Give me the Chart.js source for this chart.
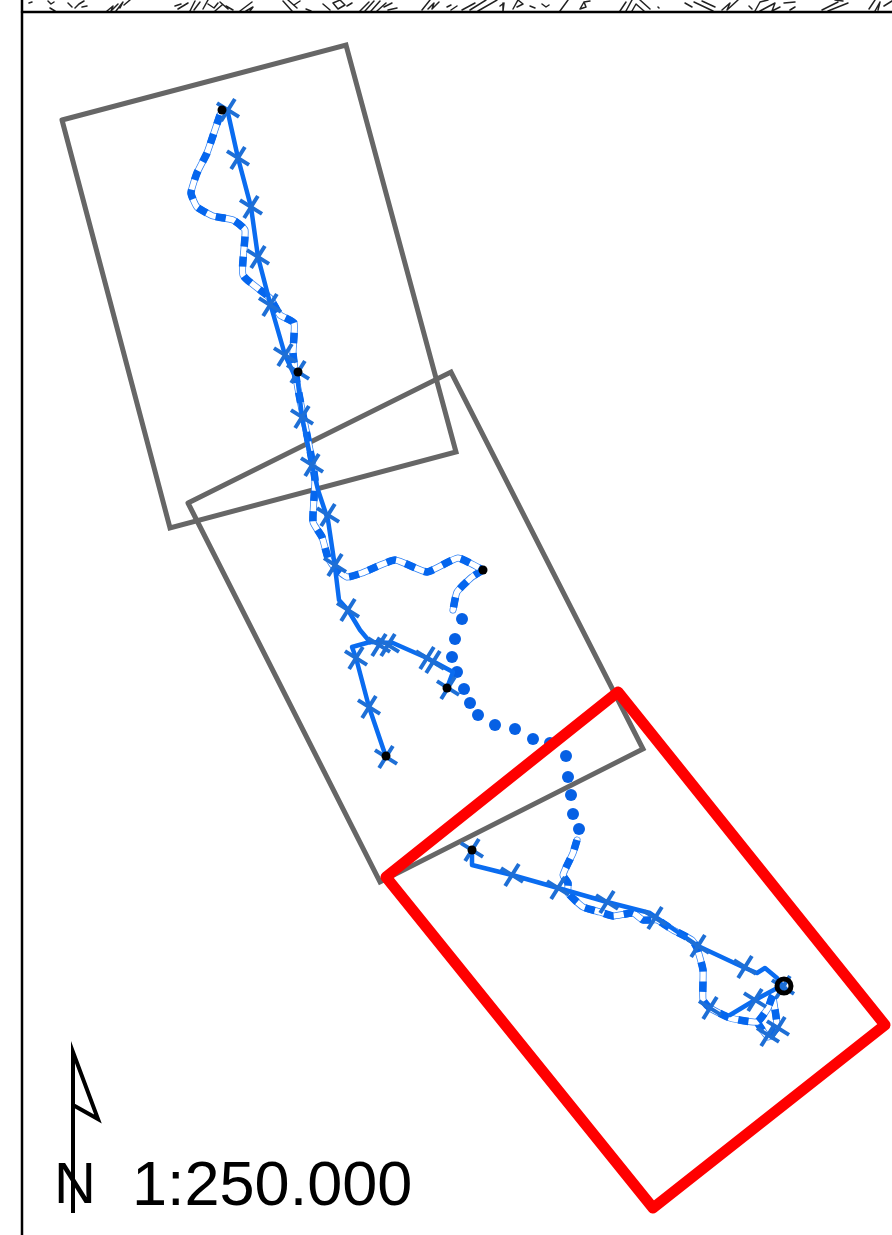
<!DOCTYPE html>
<html>
<head>
<meta charset="utf-8">
<title>1:250.000</title>
<script src="https://cdn.jsdelivr.net/npm/chart.js@4/dist/chart.umd.min.js"></script>
<style>
body { margin: 0; background: #fff; overflow: hidden; }
canvas { display: block; }
</style>
</head>
<body>
<canvas id="map" width="892" height="1235"></canvas>
<script>
// map sheets
const sheetNorth = [[62,120],[346,45],[456,452],[170,528],[62,120]];
const sheetMiddle = [[188,503],[451,372],[643,749],[380,882],[188,503]];
const sheetSouth = [[386,877],[618,692],[885,1025],[653,1208],[386,877]];

// walked route, solid
const solidNorth = [[228,113],[238,158],[251,207],[258,257],[270,303],[285,355],[298,383],[302,417],[312,465],[318,490],[328,520],[335,567],[339,600],[348,610],[360,630],[370,642]];
const solidWest = [[370,642],[352,647],[356,658],[369,707],[386,757]];
const solidEast = [[370,642],[393,643],[427,658],[453,672],[447,688]];
const solidSouth = [[472,850],[472,865],[512,875],[558,888],[607,902],[650,913],[698,946],[745,968],[757,973],[765,968],[777,978],[783,987]];
const solidLoop = [[730,1015],[755,1000],[768,993],[783,985]];

// route alternative, dashed
const dashNorth = [[220,115],[207,153],[197,173],[191,193],[197,207],[213,216],[233,220],[245,230],[243,275],[270,298],[280,315],[294,323],[293,353],[297,383],[302,410],[310,450],[315,480],[313,522],[322,537],[328,558],[335,568],[347,577],[362,573],[395,560],[427,572],[458,558],[483,570]];
const dashHook = [[483,570],[472,577],[457,592],[453,610]];
const dashSouth = [[577,840],[573,853],[563,875],[568,883],[568,893],[583,907],[600,912],[613,916],[633,913],[643,920],[657,920],[673,930],[692,940],[697,948],[703,970],[703,1000],[710,1008],[730,1018],[757,1022],[768,1008],[773,995],[783,987]];
const dashSpur = [[757,1022],[768,1037],[777,1027],[773,997]];

// route without a path, dotted
const dotted = [[462,619],[455,639],[452,657],[457,672],[464,689],[470,703],[478,715],[495,725],[515,729],[533,739],[550,743],[566,756],[568,777],[571,795],[573,814],[579,829]];

// waypoints
const crosses = [[228,110],[238,158],[251,207],[258,257],[270,305],[285,355],[298,372],[302,417],[312,465],[328,515],[335,565],[348,610],[379,645],[388,645],[427,658],[433,662],[356,658],[369,707],[386,757],[448,688],[472,850],[512,875],[558,888],[607,902],[655,918],[698,946],[745,967],[755,1000],[710,1008],[778,1028],[768,1035],[783,987]];
const stops = [[222,110],[298,372],[483,570],[447,688],[386,756],[472,850]];
const campStop = [[784,986]];

// sheet frame and north arrow
const frameLeft = [[22,0],[22,1235]];
const frameTop = [[22,12],[892,12]];
const arrow = [[73,1213],[73,1052],[98,1119],[73,1105]];

// background map scraps along the top edge
const topoStrokes = [
  [[29,3],[32,2]],[[48,1],[51,4],[54,2]],[[50,8],[55,11]],[[68,3],[72,7]],[[75,8],[79,4],[84,1]],[[82,7],[87,6]],
  [[107,11],[113,6],[111,11],[118,4]],[[116,11],[123,2],[120,8]],[[124,5],[130,0]],
  [[175,6],[181,4]],[[178,9],[188,3]],[[190,11],[195,1]],[[194,10],[200,2]],[[203,9],[208,0]],[[208,4],[214,8],[218,3]],[[215,11],[222,5]],[[220,2],[228,9]],[[226,6],[233,10]],
  [[240,11],[252,2]],[[246,11],[253,7],[250,11]],[[283,1],[292,11]],[[288,0],[297,8]],[[300,1],[294,5]],[[306,9],[311,11]],
  [[323,4],[330,10]],[[333,3],[340,0],[345,5],[338,9],[333,3]],[[347,6],[352,3]],[[360,11],[369,2]],[[365,11],[374,1]],[[371,11],[380,1]],[[377,11],[386,3]],[[384,7],[392,3]],[[388,10],[397,8]],
  [[422,10],[430,0]],[[428,9],[434,3],[432,9],[439,2]],[[447,7],[451,5]],[[451,10],[457,6]],
  [[462,10],[475,3]],[[470,10],[486,0]],[[478,11],[497,0]],[[500,6],[504,3],[503,11]],[[513,9],[518,0],[523,4],[517,7]],[[530,6],[535,8]],[[542,4],[546,7],[549,5]],
  [[560,11],[568,0]],[[580,9],[584,2],[590,1]],[[580,9],[586,7],[584,2]],
  [[620,11],[626,2]],[[626,11],[632,0]],[[632,11],[636,4],[644,11]],[[640,0],[650,9]],[[658,7],[659,8]],
  [[685,3],[692,7]],[[694,2],[713,11]],[[702,1],[715,7]],[[722,10],[730,3],[727,10],[738,0]],[[749,6],[752,9]],
  [[755,11],[760,2],[768,0]],[[760,11],[775,3],[772,11],[780,7]],[[784,3],[795,2]],[[790,10],[795,7]],
  [[822,10],[838,2]],[[828,11],[848,3]],[[835,0],[843,1]],[[869,9],[875,0]],[[875,11],[880,2],[878,10]],[[884,6],[892,1]]
];

const blue = '#0a6cf0';
const dotBlue = '#0660e4';

function toPoints(list){
  return list.map(p => ({x: p[0], y: p[1]}));
}

function lineSet(label, list, color, width, extra){
  return Object.assign({
    label: label,
    data: toPoints(list),
    showLine: true,
    borderColor: color,
    borderWidth: width,
    pointRadius: 0,
    borderJoinStyle: 'round',
    borderCapStyle: 'round'
  }, extra || {});
}

// one dashed route is three strokes on top of each other
function dashedSets(label, list){
  return [
    lineSet(label + ' dash', list, '#0566ee', 7.5, {borderDash: [10, 10], borderCapStyle: 'butt', tension: 0.15}),
    lineSet(label + ' fill', list, '#ffffff', 5.5, {tension: 0.15}),
    lineSet(label + ' edge', list, '#2f80f2', 7, {tension: 0.15})
  ];
}

const topoPoints = [];
topoStrokes.forEach(stroke => {
  stroke.forEach(p => topoPoints.push(p));
  topoPoints.push([null, null]);
});

// first dataset is drawn on top
const datasets = [
  {label: 'camp', data: toPoints(campStop), pointStyle: 'circle', pointRadius: 7, pointBackgroundColor: 'rgba(0,0,0,0)', pointBorderColor: '#000', pointBorderWidth: 5},
  {label: 'stops', data: toPoints(stops), pointStyle: 'circle', pointRadius: 4.5, pointBackgroundColor: '#000', pointBorderColor: '#000', pointBorderWidth: 0},
  {label: 'waypoints', data: toPoints(crosses), pointStyle: 'cross', pointRadius: 13, pointRotation: 32, pointBorderColor: '#1e6fd6', pointBorderWidth: 4},
  lineSet('sheet south', sheetSouth, '#ff0000', 11),
  lineSet('solid north', solidNorth, blue, 4.5),
  lineSet('solid west', solidWest, blue, 4.5),
  lineSet('solid east', solidEast, blue, 4.5),
  lineSet('solid south', solidSouth, blue, 4.5),
  lineSet('solid loop', solidLoop, blue, 4.5),
  ...dashedSets('north', dashNorth),
  ...dashedSets('hook', dashHook),
  ...dashedSets('south', dashSouth),
  ...dashedSets('spur', dashSpur),
  {label: 'dotted', data: toPoints(dotted), pointStyle: 'circle', pointRadius: 6, pointBackgroundColor: dotBlue, pointBorderWidth: 0},
  lineSet('sheet north', sheetNorth, '#666666', 5, {borderJoinStyle: 'miter'}),
  lineSet('sheet middle', sheetMiddle, '#666666', 5, {borderJoinStyle: 'miter'}),
  lineSet('arrow', arrow, '#000000', 4, {borderJoinStyle: 'miter', borderCapStyle: 'butt'}),
  lineSet('frame left', frameLeft, '#000000', 2.5),
  lineSet('frame top', frameTop, '#000000', 2.5),
  lineSet('topo', topoPoints, '#222222', 1.5, {spanGaps: false})
];

// scale text and the N of the arrow
const mapLabels = {
  id: 'mapLabels',
  afterDatasetsDraw(chart){
    const ctx = chart.ctx;
    const xs = chart.scales.x;
    const ys = chart.scales.y;
    ctx.save();
    ctx.fillStyle = '#000';
    ctx.textBaseline = 'alphabetic';
    ctx.textAlign = 'left';
    ctx.font = '63px "Liberation Sans"';
    ctx.fillText('1:250.000', xs.getPixelForValue(132), ys.getPixelForValue(1205));
    ctx.textAlign = 'center';
    ctx.font = '58px "Liberation Sans"';
    ctx.fillText('N', xs.getPixelForValue(75), ys.getPixelForValue(1203));
    ctx.restore();
  }
};

new Chart(document.getElementById('map'), {
  type: 'scatter',
  data: {datasets: datasets},
  plugins: [mapLabels],
  options: {
    responsive: false,
    animation: false,
    layout: {padding: 0, autoPadding: false},
    clip: false,
    plugins: {legend: {display: false}, title: {display: false}, tooltip: {enabled: false}},
    scales: {
      x: {type: 'linear', min: 0, max: 892, display: false},
      y: {type: 'linear', min: 0, max: 1235, reverse: true, display: false}
    }
  }
});
</script>
</body>
</html>
